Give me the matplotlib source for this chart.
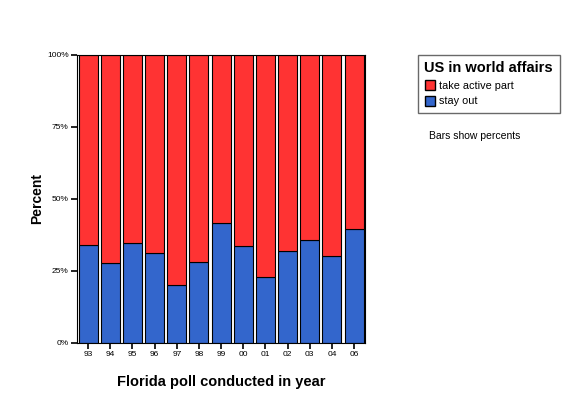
import matplotlib
matplotlib.use('Agg')
from matplotlib import pyplot as plt
from matplotlib.patches import Patch

plt.rcParams['font.family'] = ['Liberation Sans', 'DejaVu Sans']

years = ['93', '94', '95', '96', '97', '98', '99', '00', '01', '02', '03', '04', '06']
stay_out = [34.0, 27.8, 34.7, 31.3, 20.1, 28.1, 41.7, 33.7, 22.9, 31.9, 35.8, 30.2, 39.6]
active = [100 - v for v in stay_out]

red = '#ff3333'
blue = '#3366cc'

fig = plt.figure(figsize=(5.88, 4.17), dpi=100)
ax = fig.add_axes([0.131, 0.1775, 0.490, 0.691])

x = range(len(years))
ax.bar(x, stay_out, width=0.86, color=blue, edgecolor='black', linewidth=0.8)
ax.bar(x, active, width=0.86, bottom=stay_out, color=red, edgecolor='black', linewidth=0.8)

ax.set_xlim(-0.5, len(years) - 0.5)
ax.set_ylim(0, 100)
ax.set_xticks(list(x))
ax.set_xticklabels(years, fontsize=6)
ax.set_yticks([0, 25, 50, 75, 100])
ax.set_yticklabels(['0%', '25%', '50%', '75%', '100%'], fontsize=6)
ax.tick_params(direction='out', length=4, width=1.2, pad=2)
for s in ax.spines.values():
    s.set_linewidth(0.8)

ax.set_xlabel('Florida poll conducted in year', fontsize=10.5, fontweight='bold', labelpad=12)
ax.set_ylabel('Percent', fontsize=10, fontweight='bold', labelpad=2)

handles = [Patch(facecolor=red, edgecolor='black', label='take active part'),
           Patch(facecolor=blue, edgecolor='black', label='stay out')]
leg = fig.legend(handles=handles, title='US in world affairs', loc='upper left',
                 bbox_to_anchor=(418 / 588, 1 - 55 / 417), borderaxespad=0,
                 fontsize=7.8,
                 title_fontproperties={'weight': 'bold', 'size': 10.5},
                 frameon=True, fancybox=False, edgecolor='#444444',
                 handlelength=1.0, handleheight=1.0, handletextpad=0.3,
                 labelspacing=0.45, borderpad=0.6, alignment='left')
leg.get_frame().set_linewidth(1.0)

fig.text(429 / 588, 1 - 136 / 417, 'Bars show percents', fontsize=7.5, va='center')

fig.savefig('out.png', dpi=100)
